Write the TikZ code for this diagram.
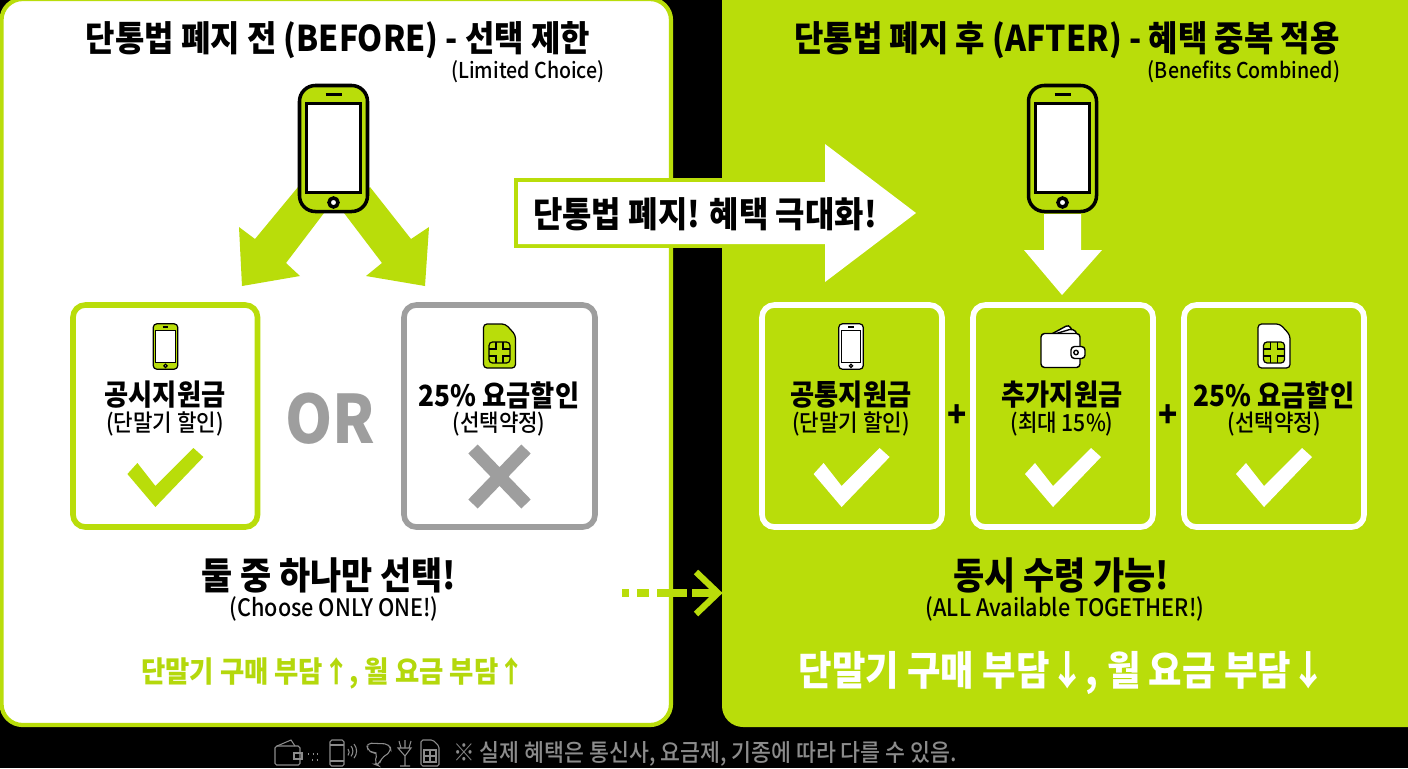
\documentclass[tikz,border=0pt]{standalone}
\usepackage{fontspec}
\setmainfont{Noto Sans CJK KR}[FakeStretch=0.9]
\newfontfamily\medfont{Noto Sans CJK KR Medium}[FakeStretch=0.9]
\definecolor{lime}{HTML}{B9DD0A}
\definecolor{limetext}{HTML}{B4D80C}
\definecolor{cardgray}{HTML}{9E9E9E}
\definecolor{notegray}{HTML}{8C8C8C}
\newcommand{\px}[1]{\fontsize{#1}{#1}\selectfont}
\tikzset{
  phone/.pic={
    \draw[fill=#1] (-34,-63) rectangle (34,63);
    \draw[fill=white,sharp corners] (-27,-45) rectangle (27,44);
    \draw[sharp corners] (-8,-54) -- (8,-54);
    \draw[fill=white] (0,54) circle (4.5);
  },
  simcard/.pic={
    \draw[fill=#1] (-16,-22) -- (6,-22) -- (16,-11) -- (16,22) -- (-16,22) -- cycle;
    \draw[fill=lime] (-10.5,-4) rectangle (10.5,17);
    \draw[sharp corners] (-10.5,3) -- (-3.5,3) -- (-3.5,-4) (3.5,-4) -- (3.5,3) -- (10.5,3)
      (-10.5,10) -- (-3.5,10) -- (-3.5,17) (3.5,17) -- (3.5,10) -- (10.5,10);
  },
  wallet/.pic={
    \draw[fill=white] (-16,-10) -- (6,-22) -- (11,-12) -- cycle;
    \draw[fill=white] (-10,-12) -- (10,-18) -- (15,-12) -- cycle;
    \draw[fill=white] (-22,-13) -- (17,-13) -- (17,21) -- (-22,21) -- cycle;
    \draw[fill=white] (8,0) rectangle (22,12);
    \draw (13,6) circle (2.2);
  },
  checkmark/.pic={
    \fill[#1,sharp corners] (-28,-33) -- (0,0) -- (48,-50) -- (38,-59) -- (0,-21) -- (-18,-44) -- cycle;
  },
  title/.style={font=\bfseries\px{20.2}},
  subtitle/.style={font=\medfont\px{12.4}},
  picksub/.style={font=\medfont\px{13.7}},
  cardhead/.style={font=\bfseries\px{16.6}},
  cardsub/.style={font=\medfont\px{13.4}},
  bighead/.style={font=\bfseries\px{21.4}},
  card/.style={line width=3.2pt,rounded corners=7pt},
  plus/.style={font=\bfseries\px{20}}
}
\begin{document}
\begin{tikzpicture}[x=0.02cm,y=-0.02cm]
  \useasboundingbox (0,0) rectangle (1408,768);
  \clip (0,0) rectangle (1408,768);
  \fill[black] (0,0) rectangle (1408,768);

  % panels:
  \draw[fill=white,draw=lime,line width=2.4pt,rounded corners=12pt] (1.5,-1) rectangle (671,725);
  \fill[lime,rounded corners=12pt] (722,-20) rectangle (1430,727);

  % titles:
  \node (titleL) at (338,40) [title] {단통법 폐지 전 (BEFORE) - 선택 제한};
  \node (subL) at (528,72) [subtitle] {(Limited Choice)};
  \node (titleR) at (1067,40) [title] {단통법 폐지 후 (AFTER) - 혜택 중복 적용};
  \node (subR) at (1244,72) [subtitle] {(Benefits Combined)};

  % left arrows:
  \fill[lime] (298,187) -- (324,213) -- (286,263) -- (300,276) -- (242,286) -- (239,227) -- (255,239) -- cycle;
  \fill[lime] (370,187) -- (344,213) -- (382,263) -- (366,276) -- (425,286) -- (429,227) -- (411,239) -- cycle;

  % phones:
  \pic[line width=2pt,rounded corners=9pt] at (333.5,148.5) {phone=lime};
  \pic[line width=2pt,rounded corners=9pt] at (1062.5,148.5) {phone=lime};

  % down arrow:
  \fill[white] (1044,214) -- (1081,214) -- (1081,250) -- (1102,250) -- (1062,295) -- (1024,250) -- (1044,250) -- cycle;

  % big arrow:
  \fill[lime] (514,178) rectangle (722,248);
  \fill[white] (518,182) -- (825,182) -- (825,144) -- (916,213) -- (825,282) -- (825,244) -- (518,244) -- cycle;
  \node (bigtext) at (705,214) [title] {단통법 폐지! 혜택 극대화!};

  % left cards:
  \draw[card,draw=lime] (73,305) rectangle (257.5,527);
  \draw[card,draw=cardgray] (404,305) rectangle (595,527);
  \node (orlabel) at (330,419) [font=\bfseries\px{38},text=cardgray] {OR};

  \pic[scale=.36,line width=.7pt,rounded corners=2pt] at (165.5,346.5) {phone=lime};
  \pic[line width=.7pt,rounded corners=2pt] at (499.5,346) {simcard=lime};
  \node (headA) at (165,395) [cardhead] {공시지원금};
  \node (subA) at (165,424) [cardsub] {(단말기 할인)};
  \node (headB) at (499,395) [cardhead] {25\% 요금할인};
  \node (subB) at (499,424) [cardsub] {(선택약정)};
  \pic at (155.4,507) {checkmark=lime};
  \draw[cardgray,line width=7.4pt] (473,449) -- (526,504) (526,449) -- (473,504);

  % right cards:
  \draw[card,draw=white] (762,305) rectangle (942,527);
  \draw[card,draw=white] (973,305) rectangle (1153,527);
  \draw[card,draw=white] (1184,305) rectangle (1364,527);

  \pic[scale=.36,line width=.7pt,rounded corners=2pt] at (851,346.5) {phone=white};
  \pic[line width=.8pt,rounded corners=2pt] at (1063,346.5) {wallet};
  \pic[line width=.7pt,rounded corners=2pt] at (1274,346) {simcard=white};
  \node (headC) at (851,395) [cardhead] {공통지원금};
  \node (subC) at (851,424) [cardsub] {(단말기 할인)};
  \node (headD) at (1062,395) [cardhead] {추가지원금};
  \node (subD) at (1062,424) [cardsub] {(최대 15\%)};
  \node (headE) at (1274,395) [cardhead] {25\% 요금할인};
  \node (subE) at (1274,424) [cardsub] {(선택약정)};
  \pic at (841.6,507) {checkmark=white};
  \pic at (1053,507) {checkmark=white};
  \pic at (1264,507) {checkmark=white};
  \node (plusA) at (957,416) [plus] {+};
  \node (plusB) at (1168,416) [plus] {+};

  % bottom texts:
  \node (pickL) at (329,575) [bighead] {둘 중 하나만 선택!};
  \node (pickLsub) at (334,609) [picksub] {(Choose ONLY ONE!)};
  \node (costL) at (333,673) [font=\bfseries\px{16.7},text=limetext] {단말기 구매 부담↑, 월 요금 부담↑};
  \node (pickR) at (1061,575) [bighead] {동시 수령 가능!};
  \node (pickRsub) at (1065,609) [picksub] {(ALL Available TOGETHER!)};
  \node (costR) at (1063,673) [font=\bfseries\px{23},text=white] {단말기 구매 부담↓, 월 요금 부담↓};

  % dashed arrow:
  \coordinate (dashA) at (622,593);
  \coordinate (dashB) at (718,593);
  \draw[lime,line width=4.2pt,dash pattern=on 4pt off 4.5pt on 7pt off 4.5pt on 17pt off 3pt on 16pt] (dashA) -- (dashB);
  \draw[lime,line width=3.6pt] (696,572) -- (dashB) -- (696,614);

  % footer:
  \node (note) at (705,754) [font=\medfont\px{13.7},text=notegray] {※ 실제 혜택은 통신사, 요금제, 기종에 따라 다를 수 있음.};
  \begin{scope}[draw=notegray,line width=.6pt]
    \draw[rounded corners=1pt] (275,746) rectangle (300,765);
    \draw (277,746) -- (291,740) -- (295,746);
    \draw (294,753) rectangle (302,759);
    \draw[dotted] (308,754) -- (320,754) (312,760) -- (318,760);
    \draw[rounded corners=1pt] (330,740) rectangle (344,766);
    \draw (330,745) -- (344,745) (330,761) -- (344,761);
    \draw (348,749) arc (-40:40:5) (351,746) arc (-40:40:8) (354,744) arc (-40:40:11);
    \draw[rounded corners=3pt] (366,743) -- (390,744) -- (391,752) -- (381,758) -- (379,766) -- (374,764) -- (378,752) -- (369,753) -- cycle;
    \draw (398,748) -- (411,748) -- (405,756) -- cycle (405,756) -- (405,766) (400,766) -- (410,766);
    \draw (401,748) -- (399,741) (405,748) -- (405,740) (409,748) -- (411,741);
    \draw[rounded corners=1pt] (421,740) -- (433,740) -- (439,746) -- (439,766) -- (421,766) -- cycle;
    \draw (424,750) rectangle (436,762) (424,756) -- (436,756) (430,750) -- (430,762);
  \end{scope}
\end{tikzpicture}
\end{document}
